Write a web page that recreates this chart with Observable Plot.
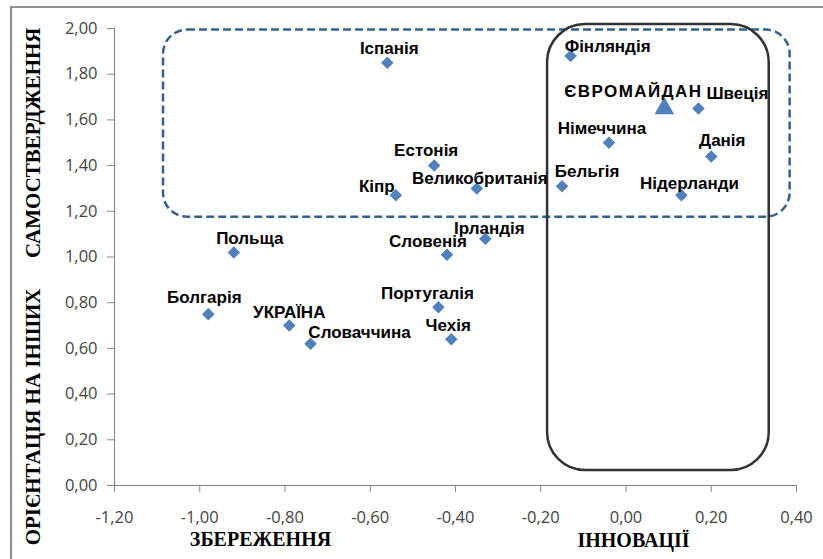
<!DOCTYPE html>
<html>
<head>
<meta charset="utf-8">
<script src="https://cdn.jsdelivr.net/npm/d3@7"></script>
<script src="https://cdn.jsdelivr.net/npm/@observablehq/plot@0.6"></script>
<style>
  html, body { margin: 0; padding: 0; background: #fff; overflow: hidden; }
  #wrap { position: relative; width: 823px; height: 559px; }
  #frame { position: absolute; left: 10px; top: 6px; width: 900px; height: 700px;
           border-top: 2px solid #8f8f8f; border-left: 2px solid #8f8f8f; pointer-events: none; }
  #chart { position: absolute; left: 0; top: 0; }
</style>
</head>
<body>
<div id="wrap"><div id="frame"></div><div id="chart"></div></div>
<script>
// ---- data ----
const countries = ["Іспанія","Фінляндія","Швеція","Німеччина","Данія","Бельгія","Нідерланди",
  "Естонія","Великобританія","Кіпр","Польща","Ірландія","Словенія","Португалія","Чехія",
  "Болгарія","УКРАЇНА","Словаччина"];
const xValues = [-0.56,-0.13,0.17,-0.04,0.20,-0.15,0.13,-0.45,-0.35,-0.54,-0.92,-0.33,-0.42,-0.44,-0.41,-0.98,-0.79,-0.74];
const yValues = [1.85,1.88,1.65,1.50,1.44,1.31,1.27,1.40,1.30,1.27,1.02,1.08,1.01,0.78,0.64,0.75,0.70,0.62];
const highlightName = ["ЄВРОМАЙДАН"];
const highlightX = [0.09];
const highlightY = [1.65];
const xTicks = [-1.2,-1.0,-0.8,-0.6,-0.4,-0.2,0,0.2,0.4];
const yTicks = [0,0.2,0.4,0.6,0.8,1.0,1.2,1.4,1.6,1.8,2.0];
const xTitles = ["ЗБЕРЕЖЕННЯ","ІННОВАЦІЇ"];
const yTitles = ["САМОСТВЕРДЖЕННЯ","ОРІЄНТАЦІЯ НА ІНШИХ"];
// annotation zones (data units): x1, x2, y1, y2
const zoneX1 = [-1.085, -0.184];
const zoneX2 = [0.385, 0.336];
const zoneY1 = [1.174, 0.066];
const zoneY2 = [1.993, 2.017];

// ---- layout (label offsets in px) ----
const labelOffsets = [[2,-14],[37,-9],[39,-15],[-7,-14],[11,-16],[25,-15],[8,-12],
  [-8,-15],[3,-10],[-19,-9],[16,-14],[4,-10],[-19,-13],[-11,-14],[-3,-14],
  [-4,-17],[0,-13],[49,-11]];
// title centre positions along the y axis (axis units) for the rotated y titles
const yTitlePos = [1.50, 0.30];

const points = countries.map((name, i) => ({name, x: xValues[i], y: yValues[i]}));
const highlight = highlightName.map((name, i) => ({name, x: highlightX[i], y: highlightY[i]}));
const zones = zoneX1.map((x1, i) => ({x1, x2: zoneX2[i], y1: zoneY1[i], y2: zoneY2[i]}));

const fmt = d => d.toFixed(2).replace(".", ",");
const labelFont = "'Liberation Sans', Arial, sans-serif";
const titleFont = "'Liberation Serif', 'Times New Roman', serif";

const labelMarks = points.map((p, i) => Plot.text([p], {
  x: "x", y: "y", text: "name", dx: labelOffsets[i][0], dy: labelOffsets[i][1],
  fontFamily: labelFont, fontWeight: "bold", fontSize: 17, fill: "#000", lineAnchor: "middle"
}));

const chart = Plot.plot({
  width: 823, height: 559,
  marginLeft: 114, marginRight: 27, marginTop: 28, marginBottom: 74,
  style: {background: "transparent", fontFamily: "'Open Sans', sans-serif", overflow: "visible"},
  x: {domain: [-1.2, 0.4]},
  y: {domain: [0, 2]},
  marks: [
    Plot.rect([zones[0]], {x1: "x1", x2: "x2", y1: "y1", y2: "y2", rx: 24, fill: "none",
      stroke: "#35618f", strokeWidth: 2.5, strokeDasharray: "8,4"}),
    Plot.rect([zones[1]], {x1: "x1", x2: "x2", y1: "y1", y2: "y2", rx: 38, fill: "none",
      stroke: "#333", strokeWidth: 2.5}),
    Plot.ruleX([-1.2], {stroke: "#8a8a8a", strokeWidth: 1.2}),
    Plot.ruleY([0], {stroke: "#8a8a8a", strokeWidth: 1.2}),
    Plot.axisX({ticks: xTicks, tickFormat: fmt, tickSize: 7, tickPadding: 19, stroke: "#8a8a8a",
      fill: "#444", fontSize: 16.5, label: null}),
    Plot.axisY({ticks: yTicks, tickFormat: fmt, tickSize: 7, tickPadding: 10, stroke: "#8a8a8a",
      fill: "#444", fontSize: 16.5, label: null}),
    Plot.dot(points, {x: "x", y: "y", symbol: "square", rotate: 45, r: 5, fill: "#4f81bd", stroke: "none"}),
    Plot.dot(highlight, {x: "x", y: "y", symbol: "triangle", r: 7.3, fill: "#4f81bd", stroke: "none"}),
    ...labelMarks,
    Plot.text(highlight, {x: "x", y: "y", text: "name", dx: -31, dy: -17,
      fontFamily: labelFont, fontWeight: "bold", fontSize: 17, fill: "#000", lineAnchor: "middle",
      className: "wide-label"}),
    Plot.text(yTitles, {frameAnchor: "left", y: (d, i) => yTitlePos[i], text: d => d, rotate: -90, dx: -81,
      textAnchor: "middle", fontFamily: titleFont, fontWeight: "bold", fontSize: 21, fill: "#000",
      lineAnchor: "middle", className: "ytitle"}),
    Plot.text([xTitles[0]], {frameAnchor: "bottom", text: d => d, dx: -195, dy: 54,
      fontFamily: titleFont, fontWeight: "bold", fontSize: 20, fill: "#000", lineAnchor: "middle"}),
    Plot.text([xTitles[1]], {frameAnchor: "bottom", text: d => d, dx: 178, dy: 55,
      fontFamily: titleFont, fontWeight: "bold", fontSize: 20, fill: "#000", lineAnchor: "middle"})
  ]
});
d3.select(chart).selectAll(".wide-label text").style("letter-spacing", "1.4px");
document.getElementById("chart").appendChild(chart);
</script>
</body>
</html>
